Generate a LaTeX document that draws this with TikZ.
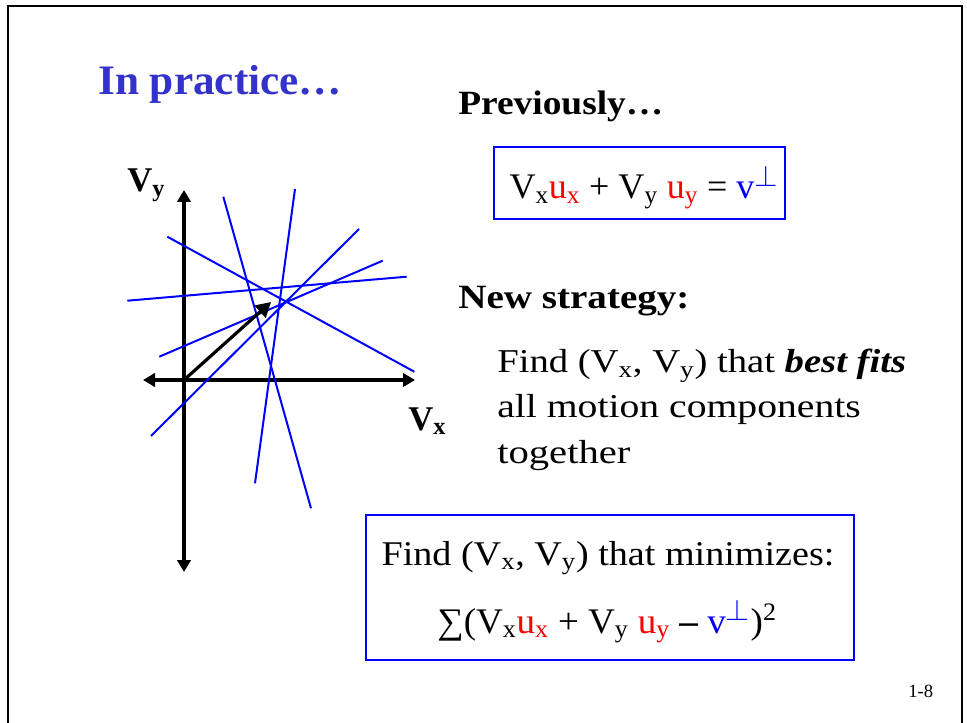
\documentclass[tikz,border=0pt]{standalone}
\usepackage{fontspec}
\setmainfont{Liberation Serif}
\usetikzlibrary{arrows.meta}
\definecolor{titleblue}{RGB}{51,51,204}
\newcommand\sbx[1]{\textsubscript{#1}}
\newcommand\rd[1]{\textcolor{red}{#1}}
\newcommand\vperp{\textcolor{blue}{v\textsuperscript{\scalebox{1.3}{$\perp$}}}}
\newcommand\hstr[2]{\scalebox{#1}[1]{#2}}
\begin{document}
\begin{tikzpicture}[x=0.75pt,y=-0.75pt,
  txt/.style={inner sep=0pt, anchor=base west},
  ctxt/.style={inner sep=0pt, anchor=base},
  axis/.style={line width=2.4pt, -{Triangle[length=9pt,width=10pt]}},
  fitline/.style={blue, line width=1.5pt},
  eqbox/.style={draw=blue, line width=2pt}]
\useasboundingbox (0,0) rectangle (967,723);
\draw[line width=2.2pt] (8,6) -- (962,6) -- (962,740) -- (8,740) -- cycle;
% title
\node[txt, text=titleblue, font=\fontsize{31.5}{36}\selectfont\bfseries] (title) at (98,95) {\hstr{1.03}{In practice…}};
% axes
\coordinate (o) at (184,380);
\coordinate (ytop) at (184,190);
\coordinate (ybot) at (184,572);
\coordinate (xl) at (143,380);
\coordinate (xr) at (415,380);
\draw[axis] (o) -- (ytop);
\draw[axis] (o) -- (ybot);
\draw[axis] (o) -- (xl);
\draw[axis] (o) -- (xr);
% fit lines
\coordinate (a1) at (223.3,196.7); \coordinate (b1) at (311,508.3);
\coordinate (a2) at (295,189);     \coordinate (b2) at (255,483.3);
\coordinate (a3) at (167.3,236.7); \coordinate (b3) at (414.3,371.7);
\coordinate (a4) at (127.3,300.7); \coordinate (b4) at (406.7,276.7);
\coordinate (a5) at (159.3,356.7); \coordinate (b5) at (382.7,260.7);
\coordinate (a6) at (151,436);     \coordinate (b6) at (359,229);
\foreach \i in {1,...,6} \draw[fitline] (a\i) -- (b\i);
% vector
\coordinate (vt) at (271,302);
\draw[line width=2.4pt, -{Triangle[length=11pt,width=12pt]}] (o) -- (vt);
% axis labels
\node[txt, font=\fontsize{26}{30}\selectfont\bfseries] (vy) at (127,192) {V\sbx{y}};
\node[txt, font=\fontsize{26}{30}\selectfont\bfseries] (vx) at (408,430) {V\sbx{x}};
% previously
\node[txt, font=\fontsize{25.5}{30}\selectfont\bfseries] (prev) at (458,115) {\hstr{1.1}{Previously…}};
\draw[eqbox] (494,147) rectangle (785,219);
\node[ctxt, font=\fontsize{27}{32}\selectfont] (eq1) at (644,199) {V\sbx{x}\rd{u\sbx{x}} + V\sbx{y} \rd{u\sbx{y}} = \vperp};
% new strategy
\node[txt, font=\fontsize{25.5}{30}\selectfont\bfseries] (news) at (458,309) {\hstr{1.15}{New strategy:}};
\node[txt, font=\fontsize{25}{28}\selectfont] (l1) at (497,373) {\hstr{1.16}{Find (V\sbx{x}, V\sbx{y}) that \textbf{\textit{best fits}}}};
\node[txt, font=\fontsize{25}{28}\selectfont] (l2) at (497,417) {\hstr{1.19}{all motion components}};
\node[txt, font=\fontsize{25}{28}\selectfont] (l3) at (497,463) {\hstr{1.22}{together}};
% box 2
\draw[eqbox] (366,515) rectangle (854,660);
\node[ctxt, font=\fontsize{26}{30}\selectfont] (m1) at (608,565) {\hstr{1.1}{Find (V\sbx{x}, V\sbx{y}) that minimizes:}};
\node[ctxt, font=\fontsize{27}{30}\selectfont] (m2) at (607,633) {\hstr{1.03}{∑(V\sbx{x}\rd{u\sbx{x}} + V\sbx{y} \rd{u\sbx{y}} \textbf{–} \vperp)\textsuperscript{2}}};
% page number
\node[txt, font=\fontsize{14}{16}\selectfont] (pg) at (908,697) {1-8};
\end{tikzpicture}
\end{document}
